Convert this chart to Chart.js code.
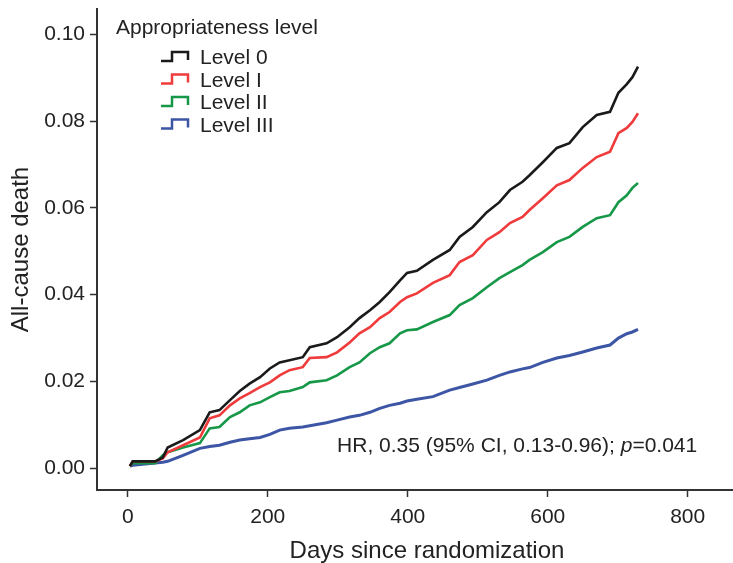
<!DOCTYPE html>
<html>
<head>
<meta charset="utf-8">
<script src="https://cdn.jsdelivr.net/npm/chart.js@4/dist/chart.umd.min.js"></script>
<style>
  html, body { margin: 0; padding: 0; background: #fff; overflow: hidden; }
  #wrap { width: 733px; height: 563px; overflow: hidden; }
</style>
</head>
<body>
<!-- the x axis runs past the right edge of the picture, so the canvas is wider than the view -->
<div id="wrap"><canvas id="canvas" width="757" height="563"></canvas></div>
<script>
// days since randomization where the curves were read
const days = [3, 7, 39, 50, 57, 79, 103, 117, 131, 146, 160, 174, 189, 203, 217, 231, 250, 260, 284, 299,
  317, 331, 346, 360, 374, 389, 399, 413, 436, 460, 474, 493, 513, 531, 546, 564, 574, 593, 613, 631,
  650, 670, 689, 701, 713, 721, 729]

// cumulative all-cause death per appropriateness level
const level0 = [0.0005, 0.0016, 0.0016, 0.0025, 0.0048, 0.0065, 0.0088, 0.0129, 0.0134, 0.0157, 0.0178, 0.0195,
  0.0210, 0.0230, 0.0244, 0.0249, 0.0256, 0.0279, 0.0288, 0.0302, 0.0325, 0.0346, 0.0364, 0.0383, 0.0406,
  0.0433, 0.0450, 0.0455, 0.0480, 0.0503, 0.0533, 0.0556, 0.0590, 0.0613, 0.0641, 0.0660, 0.0675, 0.0705,
  0.0738, 0.0749, 0.0786, 0.0814, 0.0821, 0.0865, 0.0885, 0.0901, 0.0925]
const level1 = [0.0005, 0.0016, 0.0016, 0.0023, 0.0037, 0.0053, 0.0071, 0.0115, 0.0122, 0.0145, 0.0161, 0.0173,
  0.0187, 0.0198, 0.0214, 0.0226, 0.0233, 0.0254, 0.0256, 0.0267, 0.0290, 0.0311, 0.0325, 0.0346, 0.0360,
  0.0383, 0.0394, 0.0403, 0.0427, 0.0445, 0.0475, 0.0491, 0.0526, 0.0544, 0.0565, 0.0579, 0.0595, 0.0622,
  0.0652, 0.0664, 0.0692, 0.0717, 0.0729, 0.0772, 0.0784, 0.0798, 0.0818]
const level2 = [0.0005, 0.0012, 0.0012, 0.0030, 0.0037, 0.0048, 0.0058, 0.0092, 0.0095, 0.0118, 0.0129, 0.0145,
  0.0152, 0.0164, 0.0175, 0.0178, 0.0187, 0.0198, 0.0203, 0.0214, 0.0233, 0.0244, 0.0265, 0.0279, 0.0288,
  0.0311, 0.0318, 0.0320, 0.0337, 0.0353, 0.0376, 0.0392, 0.0417, 0.0438, 0.0452, 0.0468, 0.0480, 0.0498,
  0.0521, 0.0533, 0.0556, 0.0576, 0.0583, 0.0613, 0.0629, 0.0646, 0.0657]
const level3 = [0.0005, 0.0007, 0.0012, 0.0014, 0.0016, 0.0030, 0.0046, 0.0050, 0.0053, 0.0060, 0.0065, 0.0068,
  0.0071, 0.0078, 0.0088, 0.0092, 0.0095, 0.0098, 0.0105, 0.0111, 0.0118, 0.0122, 0.0129, 0.0138, 0.0145,
  0.0150, 0.0155, 0.0159, 0.0165, 0.0180, 0.0186, 0.0194, 0.0203, 0.0214, 0.0222, 0.0229, 0.0232, 0.0244,
  0.0254, 0.0260, 0.0268, 0.0277, 0.0284, 0.0300, 0.0310, 0.0314, 0.0320]

const seriesNames = ['Level 0', 'Level I', 'Level II', 'Level III']
const seriesValues = [level0, level1, level2, level3]
const seriesColors = ['#1a1a1a', '#ef3b3b', '#169848', '#3c55a5']

const xTicks = [0, 200, 400, 600, 800]
const yTicks = [0, 0.02, 0.04, 0.06, 0.08, 0.10]

const legendTitle = 'Appropriateness level'
const hrText = 'HR, 0.35 (95% CI, 0.13-0.96); '
const pLabel = 'p'
const pValue = '=0.041'
const hrDay = 299
const hrLevel = 0.0037

const family = '"Liberation Sans", Arial, sans-serif'
const textColor = '#222'
const axisColor = '#333'

const overlay = {
  id: 'overlay',
  afterDraw(chart) {
    const ctx = chart.ctx
    const font = '21px ' + family
    ctx.save()
    ctx.fillStyle = textColor
    ctx.font = font
    ctx.textBaseline = 'alphabetic'
    ctx.textAlign = 'left'

    // legend
    ctx.fillText(legendTitle, 116, 34)
    seriesNames.forEach((name, i) => {
      const base = 64 + i * 22.5
      ctx.strokeStyle = seriesColors[i]
      ctx.lineWidth = 2.5
      ctx.lineJoin = 'miter'
      ctx.beginPath()
      ctx.moveTo(161, base - 3)
      ctx.lineTo(172, base - 3)
      ctx.lineTo(172, base - 12)
      ctx.lineTo(188, base - 12)
      ctx.lineTo(188, base - 4)
      ctx.stroke()
      ctx.fillText(name, 200, base)
    })

    // hazard ratio note
    let x = chart.scales.x.getPixelForValue(hrDay)
    const y = chart.scales.y.getPixelForValue(hrLevel)
    ctx.fillText(hrText, x, y)
    x += ctx.measureText(hrText).width
    ctx.font = 'italic ' + font
    ctx.fillText(pLabel, x, y)
    x += ctx.measureText(pLabel).width
    ctx.font = font
    ctx.fillText(pValue, x, y)
    ctx.restore()
  }
}

const datasets = seriesNames.map((name, i) => ({
  label: name,
  data: days.map((d, j) => ({ x: d, y: seriesValues[i][j] })),
  borderColor: seriesColors[i],
  backgroundColor: seriesColors[i],
  borderWidth: i === 3 ? 3 : 2.6,
  tension: 0,
  pointRadius: 0,
  fill: false,
}))

const config = {
  type: 'line',
  data: { datasets: datasets },
  options: {
    responsive: false,
    animation: false,
    devicePixelRatio: 1,
    layout: { padding: { left: 0, top: 9, right: 0, bottom: 0 } },
    plugins: {
      legend: { display: false },
      tooltip: { enabled: false },
    },
    scales: {
      x: {
        type: 'linear',
        min: -44,
        max: 899,
        afterBuildTicks: s => { s.ticks = xTicks.map(v => ({ value: v })) },
        afterFit: s => {
          s.height = 73
          s.paddingLeft = 0
          s.paddingRight = 0
        },
        grid: { drawOnChartArea: false, drawTicks: true, tickLength: 7, tickColor: axisColor, tickWidth: 1.5 },
        border: { color: axisColor, width: 2 },
        ticks: { color: textColor, font: { family: family, size: 21 }, padding: 8, maxRotation: 0, autoSkip: false },
        title: {
          display: true,
          text: 'Days since randomization',
          color: textColor,
          font: { family: family, size: 24, lineHeight: 1.0 },
          padding: { top: 0, bottom: 0 },
        },
      },
      y: {
        min: -0.005,
        max: 0.1058,
        afterBuildTicks: s => { s.ticks = yTicks.map(v => ({ value: v })) },
        afterFit: s => {
          s.width = 97
          s.paddingTop = 0
          s.paddingBottom = 0
        },
        grid: { drawOnChartArea: false, drawTicks: true, tickLength: 7, tickColor: axisColor, tickWidth: 1.5 },
        border: { color: axisColor, width: 2 },
        ticks: { color: textColor, font: { family: family, size: 21 }, padding: 5, callback: v => v.toFixed(2) },
        title: {
          display: true,
          text: 'All-cause death',
          color: textColor,
          font: { family: family, size: 24, lineHeight: 1.2 },
          padding: { top: 7, bottom: 0 },
        },
      },
    },
  },
  plugins: [overlay],
}

const canvas = document.getElementById('canvas')
const chart = new Chart(canvas, config)
</script>
</body>
</html>
